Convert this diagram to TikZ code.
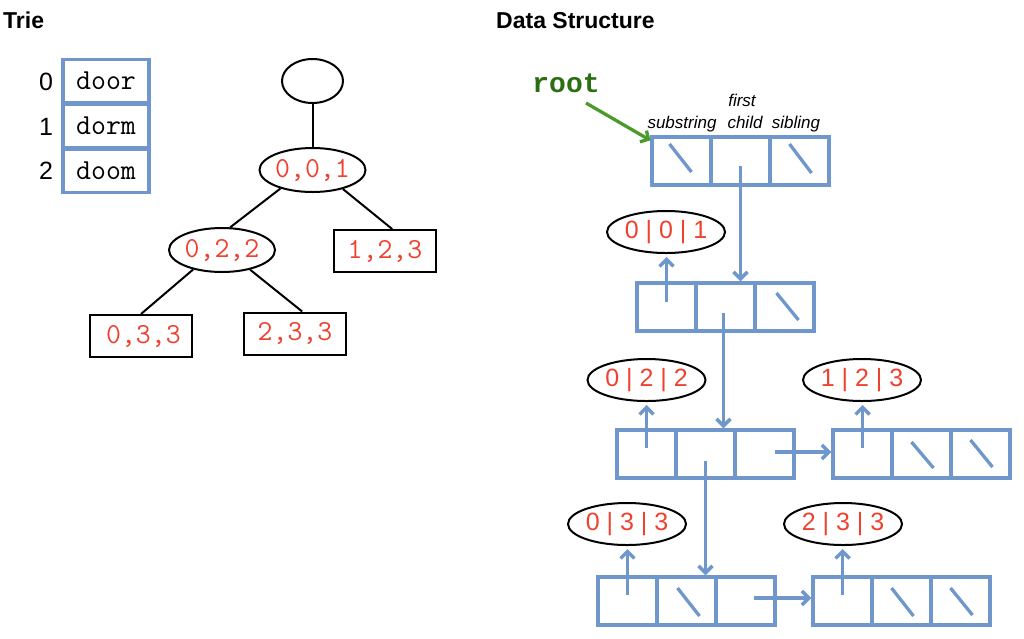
\documentclass[tikz,border=0pt]{standalone}
\usepackage{fontspec}
\setmainfont{Liberation Sans}
\newfontfamily\monof{Liberation Mono}
\usetikzlibrary{shapes.geometric,arrows.meta}
\definecolor{sblue}{RGB}{111,151,203}
\definecolor{sred}{RGB}{238,65,48}
\definecolor{sgreen}{RGB}{76,154,42}
\definecolor{dgreen}{RGB}{45,110,18}
\begin{document}
\begin{tikzpicture}[x=1pt,y=-1pt,
 title/.style={font=\fontsize{23}{26}\selectfont\bfseries, anchor=base west, inner sep=0},
 arrcell/.style={draw=sblue, line width=3.3pt, minimum width=86pt, minimum height=43pt, inner sep=0, font=\ttfamily\fontsize{29}{30}\selectfont},
 idx/.style={font=\fontsize{25}{27}\selectfont, inner sep=0},
 tell/.style={ellipse, draw=black, line width=2pt, inner sep=0, font=\ttfamily\fontsize{29}{30}\selectfont, text=sred},
 tbox/.style={rectangle, draw=black, line width=2pt, inner sep=0, minimum width=102pt, minimum height=42pt, font=\ttfamily\fontsize{29}{30}\selectfont, text=sred},
 tedge/.style={line width=2pt},
 cell/.style={draw=sblue, line width=3.3pt, minimum width=59pt, minimum height=48pt, inner sep=0},
 dell/.style={ellipse, draw=black, line width=2pt, minimum width=118pt, minimum height=42pt, inner sep=0, text=sred, font=\fontsize{25}{27}\selectfont},
 barr/.style={draw=sblue, line width=3.5pt, -{Straight Barb[length=7pt,width=14pt]}},
 nul/.style={draw=sblue, line width=3.3pt},
 flabel/.style={font=\fontsize{17}{19}\selectfont\itshape, anchor=base, inner sep=0},
]
\useasboundingbox (0,0) rectangle (1024,638);

% titles
\node[title] (ttrie) at (3,28) {Trie};
\node[title] (tds) at (496,28) {Data Structure};

% array
\node[arrcell] (w0) at (106,81) {door};
\node[arrcell] (w1) at (106,126) {dorm};
\node[arrcell] (w2) at (106,171) {doom};
\node[idx] (i0) at (46,82) {0};
\node[idx] (i1) at (46,127) {1};
\node[idx] (i2) at (46,171) {2};

% trie
\node[tell, minimum width=61pt, minimum height=44pt] (t0) at (312.5,81) {};
\node[tell, minimum width=106pt, minimum height=44pt] (t001) at (312.5,170) {0,0,1};
\node[tell, minimum width=106pt, minimum height=44pt] (t022) at (222,250) {0,2,2};
\node[tbox] (t123) at (385,251) {1,2,3};
\node[tbox] (t033) at (141,336) {\,0,3,3};
\node[tbox] (t233) at (295,333.5) {2,3,3};
\draw[tedge] (t0.south) -- (t001.north);
\draw[tedge] (t001.210) -- (t022.70);
\draw[tedge] (t001.328) -- (t123.72);
\draw[tedge] (t022.214) -- (t033.north);
\draw[tedge] (t022.325) -- (t233.72);

% data structure: root
\node[font=\monof\bfseries\fontsize{28}{30}\selectfont, text=dgreen, anchor=base, inner sep=0] (root) at (566,92) {root};
\node[flabel] (lsub) at (682,128) {substring};
\node[flabel] (lfirst) at (742,106) {first};
\node[flabel] (lchild) at (745,128) {child};
\node[flabel] (lsib) at (796,128) {sibling};

\node[cell] (R1) at (681.5,161) {};
\node[cell] (R2) at ([xshift=59pt]R1.center) {};
\node[cell] (R3) at ([xshift=59pt]R2.center) {};

\node[cell] (A1) at (666.5,307) {};
\node[cell] (A2) at ([xshift=59pt]A1.center) {};
\node[cell] (A3) at ([xshift=59pt]A2.center) {};

\node[cell] (B1) at (646.5,454) {};
\node[cell] (B2) at ([xshift=59pt]B1.center) {};
\node[cell] (B3) at ([xshift=59pt]B2.center) {};

\node[cell] (C1) at (862.5,454) {};
\node[cell] (C2) at ([xshift=59pt]C1.center) {};
\node[cell] (C3) at ([xshift=59pt]C2.center) {};

\node[cell] (D1) at (627.5,601) {};
\node[cell] (D2) at ([xshift=59pt]D1.center) {};
\node[cell] (D3) at ([xshift=59pt]D2.center) {};

\node[cell] (E1) at (842.5,601) {};
\node[cell] (E2) at ([xshift=59pt]E1.center) {};
\node[cell] (E3) at ([xshift=59pt]E2.center) {};

% substring ellipses
\node[dell] (e001) at (666,232) {0 | 0 | 1};
\node[dell] (e022) at (646.5,380) {0 | 2 | 2};
\node[dell] (e123) at (862,380) {1 | 2 | 3};
\node[dell] (e033) at (627,524) {0 | 3 | 3};
\node[dell] (e233) at (843,524) {2 | 3 | 3};

% null slashes
\draw[nul] ([shift={(-12pt,17pt)}]R1.center) -- ([shift={(10pt,-11pt)}]R1.center);
\draw[nul] ([shift={(-10pt,17pt)}]R3.center) -- ([shift={(12pt,-12pt)}]R3.center);
\draw[nul] ([shift={(-8pt,14pt)}]A3.center) -- ([shift={(14pt,-13pt)}]A3.center);
\draw[nul] ([shift={(-10pt,12pt)}]C2.center) -- ([shift={(12pt,-14pt)}]C2.center);
\draw[nul] ([shift={(-10pt,14pt)}]C3.center) -- ([shift={(12pt,-13pt)}]C3.center);
\draw[nul] ([shift={(-9pt,13pt)}]D2.center) -- ([shift={(13pt,-15pt)}]D2.center);
\draw[nul] ([shift={(-10pt,13pt)}]E2.center) -- ([shift={(12pt,-15pt)}]E2.center);
\draw[nul] ([shift={(-10pt,13pt)}]E3.center) -- ([shift={(12pt,-14pt)}]E3.center);

% green root pointer
\draw[sgreen, line width=3.3pt, -{Straight Barb[length=6pt,width=13pt]}] ([xshift=20pt,yshift=-11pt]root.base) -- ([yshift=-5pt]R1.north west);

% first child pointers
\draw[barr] ([yshift=-5pt]R2.center) -- (R2.center |- A2.north);
\draw[barr] ([shift={(-2pt,-6pt)}]A2.center) -- ([xshift=-2pt]A2.center |- B2.north);
\draw[barr] ([yshift=-7pt]B2.center) -- (B2.center |- D2.north);

% sibling pointers
\draw[barr] ([xshift=10pt,yshift=2pt]B3.center) -- ([yshift=2pt]C1.west);
\draw[barr] ([xshift=8pt,yshift=3pt]D3.center) -- ([yshift=3pt]E1.west);

% substring pointers
\draw[barr, shorten >=3pt] ([yshift=5pt]A1.center) -- (A1.center |- e001.south);
\draw[barr, shorten >=3pt] ([yshift=6pt]B1.center) -- (B1.center |- e022.south);
\draw[barr, shorten >=3pt] ([yshift=6pt]C1.center) -- (C1.center |- e123.south);
\draw[barr, shorten >=3pt] ([yshift=6pt]D1.center) -- (D1.center |- e033.south);
\draw[barr, shorten >=3pt] ([yshift=6pt]E1.center) -- (E1.center |- e233.south);
\end{tikzpicture}
\end{document}
